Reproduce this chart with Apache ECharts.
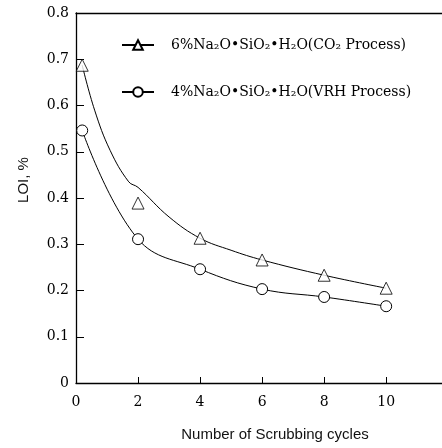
<!DOCTYPE html>
<html>
<head>
<meta charset="utf-8">
<script src="https://cdn.jsdelivr.net/npm/echarts@6/dist/echarts.min.js"></script>
<style>html,body{margin:0;padding:0;background:#fff}#c{width:442px;height:448px}</style>
</head>
<body>
<div id="c"></div>
<script>
var seriesNames = ['6%Na₂O•SiO₂•H₂O(CO₂ Process)', '4%Na₂O•SiO₂•H₂O(VRH Process)'];
var cycles = [0.2, 2, 4, 6, 8, 10];
var co2Points = [0.687, 0.389, 0.313, 0.266, 0.233, 0.205];
var vrhPoints = [0.546, 0.311, 0.246, 0.203, 0.186, 0.166];
var co2CurveX = [0.2, 0.6, 1.1, 1.7, 2, 3, 4, 5, 6, 8, 10];
var co2CurveY = [0.687, 0.59, 0.503, 0.435, 0.423, 0.359, 0.313, 0.287, 0.266, 0.233, 0.205];
var yTicks = [0, 0.1, 0.2, 0.3, 0.4, 0.5, 0.6, 0.7, 0.8];
var xTicks = [0, 2, 4, 6, 8, 10];

function pairs(xs, ys) { return xs.map(function (x, i) { return [x, ys[i]]; }); }

var chart = echarts.init(document.getElementById('c'), null, {renderer: 'canvas'});
var serif = 'DejaVu Serif';
chart.setOption({
  animation: false,
  backgroundColor: '#fff',
  grid: {left: 76, top: 13, right: 0, bottom: 65},
  legend: {
    orient: 'vertical', left: 116, top: 33, itemGap: 33, itemWidth: 32, itemHeight: 12,
    textStyle: {fontFamily: serif, fontSize: 14, color: '#000', padding: [0, 0, 0, 12]},
    data: seriesNames
  },
  xAxis: [{
    type: 'value', min: 0, max: 11.8, interval: 2,
    axisLine: {lineStyle: {color: '#000', width: 1.3}},
    axisTick: {inside: true, length: 6, lineStyle: {color: '#000'}},
    splitLine: {show: false},
    axisLabel: {showMaxLabel: false, margin: 12, fontFamily: serif, fontSize: 14, color: '#000',
      formatter: function (v) { return xTicks.indexOf(v) >= 0 ? String(v) : ''; }}
  }, {
    type: 'value', position: 'top', min: 0, max: 11.8,
    axisLine: {show: true, lineStyle: {color: '#000', width: 1.3}},
    axisTick: {show: false}, axisLabel: {show: false}, splitLine: {show: false}
  }],
  yAxis: {
    type: 'value', min: 0, max: 0.8, interval: 0.1,
    axisLine: {show: true, lineStyle: {color: '#000', width: 1.3}},
    axisTick: {show: true, inside: true, length: 8, lineStyle: {color: '#000'}},
    splitLine: {show: false},
    axisLabel: {margin: 7, fontFamily: serif, fontSize: 14, color: '#000',
      formatter: function (v) {
        var t = yTicks.filter(function (k) { return Math.abs(k - v) < 1e-9; })[0];
        return t === 0 ? '0' : t.toFixed(1);
      }}
  },
  graphic: [
    {type: 'text', x: 24, y: 180, rotation: Math.PI / 2,
      style: {text: 'LOI, %', fontFamily: 'Liberation Sans', fontSize: 15, fill: '#111', textAlign: 'center', textVerticalAlign: 'middle'}},
    {type: 'text', x: 275, y: 435,
      style: {text: 'Number of Scrubbing cycles', fontFamily: 'Liberation Sans', fontSize: 15, fill: '#111', textAlign: 'center', textVerticalAlign: 'middle'}}
  ],
  series: [
    {name: seriesNames[0], type: 'line', smooth: 0.4, showSymbol: false, symbol: 'triangle', symbolSize: 12,
      itemStyle: {color: '#fff', borderColor: '#000', borderWidth: 1},
      lineStyle: {color: '#000', width: 1},
      data: pairs(co2CurveX, co2CurveY), z: 2},
    {name: seriesNames[0], type: 'scatter', symbol: 'triangle', symbolSize: 12,
      itemStyle: {color: '#fff', borderColor: '#000', borderWidth: 1},
      data: pairs(cycles, co2Points), z: 3},
    {name: seriesNames[1], type: 'line', smooth: 0.4, symbol: 'circle', symbolSize: 11, showSymbol: true,
      itemStyle: {color: '#fff', borderColor: '#000', borderWidth: 1},
      lineStyle: {color: '#000', width: 1},
      data: pairs(cycles, vrhPoints), z: 3}
  ]
});
</script>
</body>
</html>
